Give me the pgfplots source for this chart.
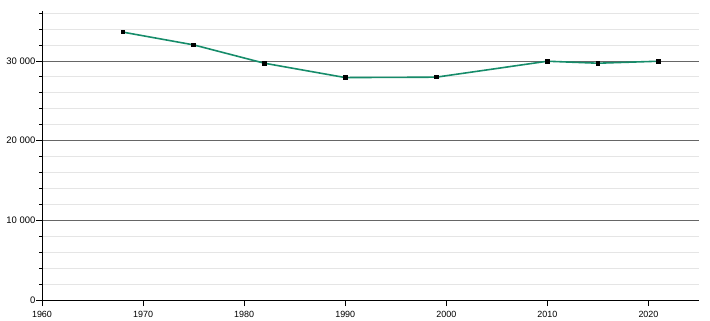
\documentclass[border=0pt]{standalone}
\usepackage{pgfplots}
\pgfplotsset{compat=1.18}
\usepackage{fontspec}
\setmainfont{Liberation Sans}
\definecolor{linec}{RGB}{22,140,106}
\begin{document}
\begin{tikzpicture}[x=1bp,y=1bp]
\useasboundingbox (0,0) rectangle (710,320);
\begin{axis}[
  at={(42bp,20bp)}, anchor=origin,
  scale only axis, width=657bp, height=289bp,
  xmin=1960, xmax=2025, ymin=0, ymax=36250,
  axis x line*=bottom, axis y line*=left,
  axis line style={black, line width=0.8pt, -},
  xtick={1960,1970,...,2020},
  ytick={0,10000,20000,30000},
  minor ytick={2000,4000,...,36000},
  scaled y ticks=false,
  ymajorgrids, yminorgrids,
  major grid style={gray!80!black, line width=0.6pt},
  minor grid style={gray!20, line width=0.6pt},
  tick style={black, line width=0.6pt},
  tick align=outside,
  major tick length=6bp,
  minor tick length=3bp,
  /pgf/number format/assume math mode=true,
  /pgf/number format/1000 sep={\ },
  xticklabel style={/pgf/number format/1000 sep={}, font=\fontsize{9}{10}\selectfont, yshift=-2bp},
  yticklabel style={font=\fontsize{9.5}{11}\selectfont, inner xsep=0.5bp},
  clip=false,
]
\addplot[linec, line width=1.6pt, mark=square*, mark size=1.8bp,
  mark options={black, fill=black, line width=0pt}]
coordinates {
(1968,33600) (1975,32000) (1982,29700) (1990,27900) (1999,27950)
(2010,29950) (2015,29700) (2021,29950)
};
\end{axis}
\end{tikzpicture}
\end{document}
